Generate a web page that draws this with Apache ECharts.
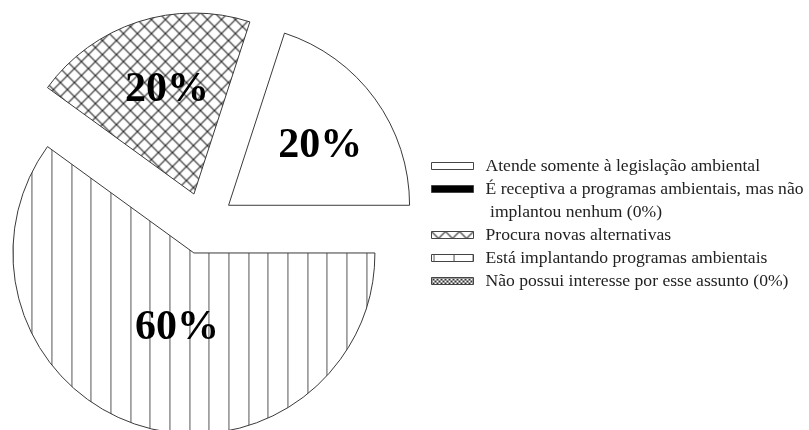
<!DOCTYPE html>
<html>
<head>
<meta charset="utf-8">
<script src="https://cdn.jsdelivr.net/npm/echarts@6/dist/echarts.min.js"></script>
<style>
  html, body { margin: 0; padding: 0; background: #fff; }
  #chart { width: 809px; height: 430px; }
</style>
</head>
<body>
<div id="chart"></div>
<script>
// Situação ambiental das empresas (percentual de respostas)
const categories = [
  'Atende somente à legislação ambiental',
  'É receptiva a programas ambientais, mas não\nimplantou nenhum (0%)',
  'Procura novas alternativas',
  'Está implantando programas ambientais',
  'Não possui interesse por esse assunto (0%)'
];
const shares = [20, 0, 20, 60, 0];

const FONT = '"Liberation Serif", "Times New Roman", serif';
const INK = '#3a3a3a';
const LEGEND_SIZE = 17.6;

// Hatch fills drawn on small canvases and tiled by the renderer
function crossHatch(size, lineColor, lw) {
  const c = document.createElement('canvas');
  c.width = size; c.height = size;
  const g = c.getContext('2d');
  g.fillStyle = '#fff';
  g.fillRect(0, 0, size, size);
  g.strokeStyle = lineColor;
  g.lineWidth = lw;
  g.beginPath();
  g.moveTo(-1, -1); g.lineTo(size + 1, size + 1);
  g.moveTo(-1, size + 1); g.lineTo(size + 1, -1);
  g.stroke();
  return c;
}
function verticalStripes(width, xs, lineColor) {
  const c = document.createElement('canvas');
  c.width = width; c.height = 8;
  const g = c.getContext('2d');
  g.fillStyle = '#fff';
  g.fillRect(0, 0, width, 8);
  g.strokeStyle = lineColor;
  g.lineWidth = 1;
  g.beginPath();
  xs.forEach(function (x) { g.moveTo(x, 0); g.lineTo(x, 8); });
  g.stroke();
  return c;
}

const fills = [
  '#ffffff',
  '#000000',
  { image: crossHatch(14, '#2a2a2a', 1.2), repeat: 'repeat' },
  { image: verticalStripes(59, [2.5, 22.5, 41.5], '#555'), repeat: 'repeat' },
  { image: crossHatch(4, '#333', 1), repeat: 'repeat' }
];

// nudges for the percentage labels inside each slice
const labelShift = [[16, -4], [0, 0], [2, -15], [12, -14], [0, 0]];

const pieData = categories.map(function (name, i) {
  const zero = shares[i] === 0;
  return {
    name: name,
    value: shares[i],
    selected: true,
    itemStyle: { color: fills[i], borderWidth: zero ? 0 : 1 },
    label: { show: !zero }
  };
});

const legendBase = {
  orient: 'vertical',
  left: 431,
  padding: 0,
  icon: 'rect',
  itemWidth: 42,
  itemHeight: 7,
  itemGap: 0,
  selectedMode: false,
  textStyle: {
    fontFamily: FONT, fontSize: LEGEND_SIZE, color: '#222', lineHeight: 23,
    padding: [0, 0, 0, 7]
  },
  formatter: function (name) { return name.split('\n')[0]; }
};

function legendItems(idx) {
  return idx.map(function (i) {
    return {
      name: categories[i],
      itemStyle: { color: fills[i], borderColor: '#444', borderWidth: 1 }
    };
  });
}

const chart = echarts.init(document.getElementById('chart'), null, { renderer: 'canvas' });
chart.setOption({
  backgroundColor: '#ffffff',
  animation: false,
  legend: [
    Object.assign({}, legendBase, { top: 154.5, data: legendItems([0, 1]) }),
    Object.assign({}, legendBase, { top: 223.5, data: legendItems([2, 3, 4]) })
  ],
  graphic: [{
    type: 'text',
    x: 490,
    y: 212,
    style: {
      text: categories[1].split('\n')[1],
      font: LEGEND_SIZE + 'px ' + FONT,
      fill: '#222',
      verticalAlign: 'middle'
    }
  }],
  series: [{
    type: 'pie',
    center: [203.5, 223.5],
    radius: 181,
    startAngle: 0,
    clockwise: false,
    minAngle: 0,
    avoidLabelOverlap: false,
    selectedMode: 'multiple',
    selectedOffset: 31,
    silent: true,
    itemStyle: { borderColor: INK, borderWidth: 1 },
    label: {
      show: true,
      position: 'inside',
      formatter: '{c}%',
      fontFamily: FONT,
      fontWeight: 'bold',
      fontSize: 42,
      color: '#000'
    },
    labelLine: { show: false },
    labelLayout: function (p) {
      const s = labelShift[p.dataIndex];
      return { dx: s[0], dy: s[1] };
    },
    emphasis: { disabled: true },
    data: pieData
  }]
});
</script>
</body>
</html>
